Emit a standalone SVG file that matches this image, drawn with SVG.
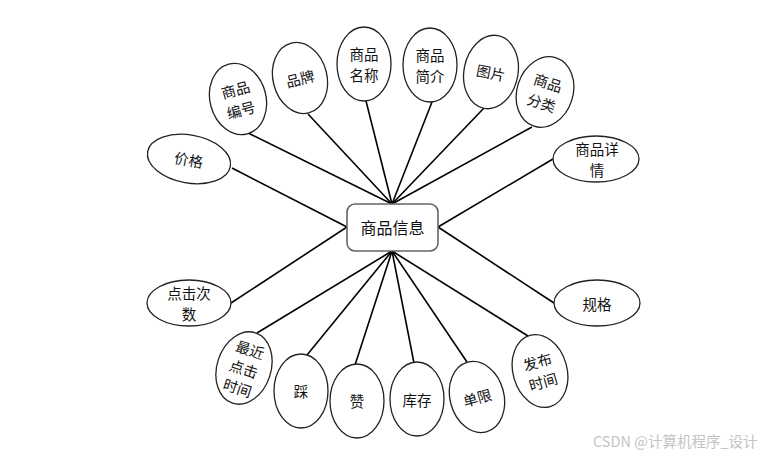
<svg xmlns="http://www.w3.org/2000/svg" width="765" height="455" viewBox="0 0 765 455">
<style>
.n ellipse{fill:#fff;stroke:#222;stroke-width:1.3}
.c line{stroke:#000;stroke-width:1.6}
text{font-family:"Noto Sans CJK SC","Liberation Sans",sans-serif;font-size:14.5px;fill:#111;text-anchor:middle;dominant-baseline:central}
.big{font-size:16px}
.wm{font-size:14.5px;fill:#c4c4c4;text-anchor:start}
</style>
<rect width="765" height="455" fill="#fff"/>
<g id="connectors" class="c">
<line x1="248" y1="133" x2="392" y2="204"/>
<line x1="308" y1="114" x2="392" y2="204"/>
<line x1="366" y1="101" x2="392" y2="204"/>
<line x1="432" y1="102" x2="392" y2="204"/>
<line x1="484" y1="108" x2="392" y2="204"/>
<line x1="532" y1="127" x2="392" y2="204"/>
<line x1="553" y1="159" x2="438" y2="227"/>
<line x1="232" y1="168" x2="347" y2="227"/>
<line x1="231" y1="303" x2="347" y2="227"/>
<line x1="554" y1="303" x2="438" y2="227"/>
<line x1="257" y1="333" x2="392" y2="251"/>
<line x1="307" y1="355" x2="392" y2="251"/>
<line x1="355" y1="365" x2="392" y2="251"/>
<line x1="414" y1="363" x2="392" y2="251"/>
<line x1="467" y1="362" x2="392" y2="251"/>
<line x1="528" y1="336" x2="392" y2="251"/>
</g>
<g id="center">
<rect x="347" y="204" width="91" height="47" rx="8" fill="#fff" stroke="#666" stroke-width="1.6"/>
<text class="big" x="392.5" y="227">商品信息</text>
</g>
<g id="bianhao" class="n" transform="rotate(-15 238 99)">
<ellipse cx="238" cy="99" rx="28" ry="36"/>
<text x="238" y="88.5">商品</text><text x="238" y="109.5">编号</text>
</g>
<g id="pinpai" class="n" transform="rotate(-14 300 78)">
<ellipse cx="300" cy="78" rx="27" ry="36"/>
<text x="300" y="78">品牌</text>
</g>
<g id="mingcheng" class="n">
<ellipse cx="364" cy="64" rx="27" ry="37"/>
<text x="364" y="53.5">商品</text><text x="364" y="74.5">名称</text>
</g>
<g id="jianjie" class="n">
<ellipse cx="430" cy="65" rx="27" ry="37"/>
<text x="430" y="54.5">商品</text><text x="430" y="75.5">简介</text>
</g>
<g id="tupian" class="n" transform="rotate(11 491 72)">
<ellipse cx="491" cy="72" rx="27" ry="37"/>
<text x="491" y="72">图片</text>
</g>
<g id="fenlei" class="n" transform="rotate(18 545 92)">
<ellipse cx="545" cy="92" rx="28" ry="36"/>
<text x="545" y="81.5">商品</text><text x="545" y="102.5">分类</text>
</g>
<g id="xiangqing" class="n">
<ellipse cx="596" cy="159" rx="43" ry="23"/>
<text x="597" y="148.5">商品详</text><text x="597" y="169.5">情</text>
</g>
<g id="jiage" class="n" transform="rotate(10 189 159)">
<ellipse cx="189" cy="159" rx="42" ry="24"/>
<text x="189" y="159">价格</text>
</g>
<g id="dianji" class="n">
<ellipse cx="189" cy="303" rx="42" ry="23"/>
<text x="189" y="292.5">点击次</text><text x="189" y="313.5">数</text>
</g>
<g id="zuijin" class="n" transform="rotate(18 244 368)">
<ellipse cx="244" cy="368" rx="27" ry="37"/>
<text x="244" y="348">最近</text><text x="244" y="368">点击</text><text x="244" y="388">时间</text>
</g>
<g id="cai" class="n">
<ellipse cx="301" cy="391" rx="27" ry="37"/>
<text x="301" y="390">踩</text>
</g>
<g id="zan" class="n">
<ellipse cx="357" cy="401" rx="27" ry="37"/>
<text x="357" y="400">赞</text>
</g>
<g id="kucun" class="n">
<ellipse cx="417" cy="399" rx="27" ry="37"/>
<text x="417" y="399">库存</text>
</g>
<g id="danxian" class="n" transform="rotate(-15 477 397)">
<ellipse cx="477" cy="397" rx="27" ry="36"/>
<text x="477" y="397">单限</text>
</g>
<g id="fabu" class="n" transform="rotate(-16 540 371)">
<ellipse cx="540" cy="371" rx="27" ry="37"/>
<text x="540" y="360.5">发布</text><text x="540" y="381.5">时间</text>
</g>
<g id="guige" class="n">
<ellipse cx="597" cy="303" rx="43" ry="23"/>
<text x="597" y="303">规格</text>
</g>
<text class="wm" x="593" y="440">CSDN @计算机程序_设计</text>
</svg>
